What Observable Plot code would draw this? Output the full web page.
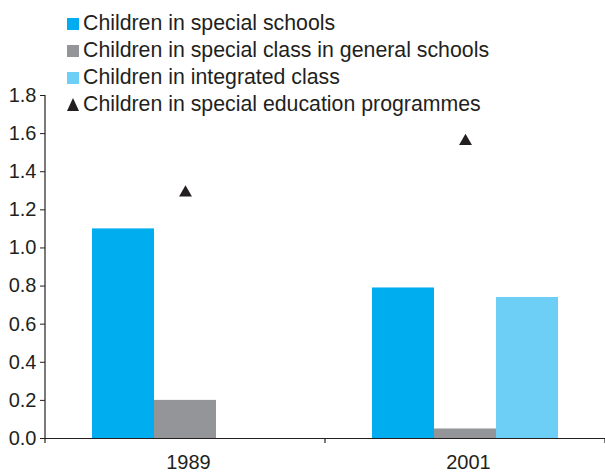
<!DOCTYPE html>
<html>
<head>
<meta charset="utf-8">
<script src="https://cdn.jsdelivr.net/npm/d3@7"></script>
<script src="https://cdn.jsdelivr.net/npm/@observablehq/plot@0.6"></script>
<style>
  html, body { margin: 0; padding: 0; background: #fff; }
  #wrap { position: relative; width: 605px; height: 472px; font-family: "Liberation Sans", Arial, sans-serif; color: #231f20; }
  #legend { position: absolute; left: 67px; top: 10px; font-size: 21.3px; line-height: 27px; }
  #legend .row { display: flex; align-items: center; white-space: nowrap; }
  #legend .sw { width: 12px; height: 12px; margin-right: 4px; flex: none; }
  #legend svg { margin-right: 4px; flex: none; }
</style>
</head>
<body>
<div id="wrap"><div id="legend"></div></div>
<script>
const years = ["1989", "2001"];
const series = [
  "Children in special schools",
  "Children in special class in general schools",
  "Children in integrated class"
];
const specialSchools = [1.1, 0.79];
const specialClass = [0.2, 0.05];
const integratedClass = [null, 0.74];
const programmesLabel = "Children in special education programmes";
const programmes = [1.29, 1.56];
const yTicks = [0, 0.2, 0.4, 0.6, 0.8, 1.0, 1.2, 1.4, 1.6, 1.8];
const palette = ["#00aeef", "#939598", "#6dcff6"];
const ink = "#231f20";

const bars = [];
[specialSchools, specialClass, integratedClass].forEach((vals, si) => {
  years.forEach((yr, yi) => {
    if (vals[yi] != null) bars.push({year: yr, series: series[si], value: vals[yi]});
  });
});
const points = years.map((yr, i) => ({year: yr, value: programmes[i]}));

const plot = Plot.plot({
  width: 605,
  height: 472,
  marginLeft: 45,
  marginRight: 0,
  marginTop: 95,
  marginBottom: 34,
  style: {fontFamily: "'Liberation Sans', Arial, sans-serif", fontSize: "20px", color: ink, background: "transparent"},
  fx: {domain: years, padding: 0, label: null},
  x: {domain: series, paddingInner: 0, paddingOuter: 0.728, axis: null},
  y: {domain: [0, 1.8], ticks: yTicks, tickFormat: ".1f", tickSize: 5, tickPadding: 4, label: null},
  color: {domain: series, range: palette},
  marks: [
    Plot.axisFx({anchor: "bottom", tickSize: 0, tickPadding: 16, dx: 3, label: null}),
    Plot.barY(bars, {fx: "year", x: "series", y: "value", fill: "series"}),
    Plot.ruleY([0], {stroke: ink, strokeWidth: 1.2}),
    Plot.dot(points, {fx: "year", y: "value", symbol: "triangle", r: 4.8, fill: ink, stroke: "none"})
  ]
});

// axis line and group-boundary ticks from the library's scales
const fxS = plot.scale("fx");
const yS = plot.scale("y");
const svg = d3.select(plot);
const y0 = yS.apply(0), yTop = yS.apply(1.8);
const x0 = fxS.apply(years[0]);
svg.append("line").attr("x1", x0).attr("x2", x0).attr("y1", yTop).attr("y2", y0)
  .attr("stroke", ink).attr("stroke-width", 1.2);
const edges = years.map(y => fxS.apply(y)).concat([fxS.apply(years[years.length - 1]) + fxS.bandwidth]);
edges.forEach(e => {
  svg.append("line").attr("x1", e).attr("x2", e).attr("y1", y0).attr("y2", y0 + 5)
    .attr("stroke", ink).attr("stroke-width", 1.2);
});

document.getElementById("wrap").prepend(plot);
plot.style.position = "absolute";
plot.style.left = "0";
plot.style.top = "0";

// legend
const legend = document.getElementById("legend");
series.forEach((s, i) => {
  const row = document.createElement("div");
  row.className = "row";
  row.innerHTML = `<span class="sw" style="background:${palette[i]}"></span><span>${s}</span>`;
  legend.appendChild(row);
});
const row = document.createElement("div");
row.className = "row";
row.innerHTML = `<svg width="12" height="13" viewBox="0 0 12 13"><polygon points="6,0 12,13 0,13" fill="${ink}"/></svg><span>${programmesLabel}</span>`;
legend.appendChild(row);
</script>
</body>
</html>
